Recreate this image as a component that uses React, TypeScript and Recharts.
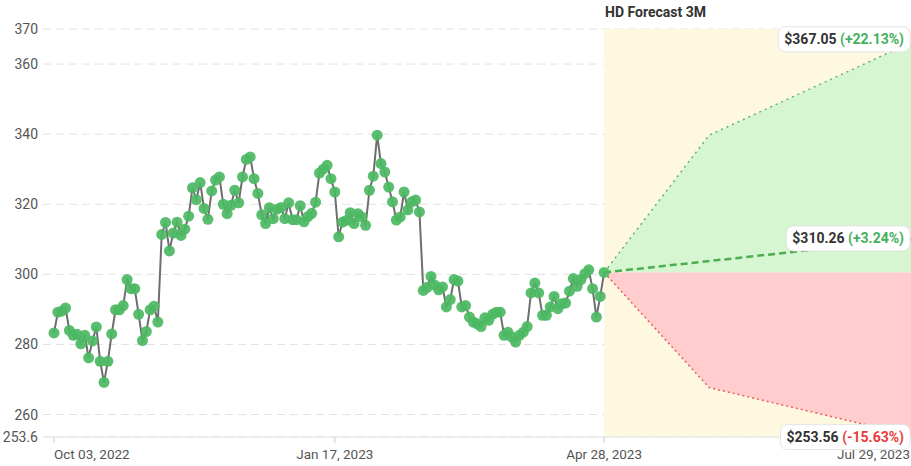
import React from 'react';
import {
  ComposedChart,
  Line,
  Area,
  XAxis,
  YAxis,
  CartesianGrid,
  ReferenceArea,
  LabelList,
} from 'recharts';

// Daily close prices, Oct 03 2022 .. Apr 28 2023 (trading days)
const PRICES: number[] = [
  283.3, 289.2, 289.5, 290.4, 284.0, 282.6, 282.9, 280.2, 282.6, 276.2,
  281.0, 285.0, 275.2, 269.2, 275.2, 283.0, 289.9, 289.9, 291.1, 298.5,
  295.9, 295.9, 288.6, 281.1, 283.7, 289.9, 290.9, 286.4, 311.4, 314.8,
  306.7, 311.8, 314.9, 311.1, 312.9, 316.6, 324.7, 321.3, 326.2, 318.8,
  315.7, 323.8, 326.9, 327.8, 320.0, 317.3, 319.7,
  324.0, 320.4, 327.8, 332.8, 333.5, 327.3, 323.1, 317.0, 314.5, 319.0,
  315.9, 318.6, 319.1, 315.9, 320.4, 315.6, 315.6, 319.6, 315.0, 316.5,
  317.4, 320.6, 328.9, 330.0, 331.1, 327.3, 323.5, 310.7, 314.9, 315.4,
  317.6, 314.5, 317.3, 316.4, 314.0, 324.0, 328.0, 339.7, 331.6, 329.2,
  324.9, 320.7, 315.5, 316.4, 323.5, 318.4, 320.7, 321.2, 317.8,
  295.4, 296.3, 299.4, 296.9, 295.6, 296.4, 290.7, 292.8, 298.5, 298.1,
  290.7, 291.1, 287.8, 286.4, 285.9, 285.1, 287.6, 286.9, 288.6, 289.2,
  289.2, 282.6, 283.5, 282.1, 280.7, 282.6, 283.5, 285.1, 294.7, 297.5,
  294.7, 288.3, 288.3, 290.7, 293.7, 290.2, 291.6, 291.8, 295.2, 298.8,
  296.6, 298.5, 300.2, 301.3, 295.9, 287.8, 293.7, 300.54,
];

// Forecast: now, +1 month, +3 months (offsets in trading-day units)
const FORECAST_OFFSETS = [0, 27.3, 81.6];
const FORECAST_UPPER = [300.54, 339.7, 367.05];
const FORECAST_MID: (number | null)[] = [300.54, null, 310.26];
const FORECAST_LOWER = [300.54, 267.7, 253.56];

const END_PRICE_TEXT = ['$367.05', '$310.26', '$253.56'];
const END_PCT_TEXT = ['(+22.13%)', '(+3.24%)', '(-15.63%)'];

const Y_TICKS = [253.6, 260, 280, 300, 320, 340, 360, 370];
const X_TICKS = [0, 73, 143, 224.6];
const X_TICK_LABELS = ['Oct 03, 2022', 'Jan 17, 2023', 'Apr 28, 2023', 'Jul 29, 2023'];
const TITLE = 'HD Forecast 3M';

const LAST = PRICES.length - 1;
const BASE = PRICES[LAST];

type Row = {
  x: number;
  price?: number;
  upper?: number;
  mid?: number | null;
  lower?: number;
  green?: [number, number];
  red?: [number, number];
};

const data: Row[] = PRICES.map((p, i) => ({ x: i, price: p }));
FORECAST_OFFSETS.forEach((o, k) => {
  let row: Row;
  if (k === 0) {
    row = data[LAST];
  } else {
    row = { x: LAST + o };
    data.push(row);
  }
  row.upper = FORECAST_UPPER[k];
  row.mid = FORECAST_MID[k];
  row.lower = FORECAST_LOWER[k];
  row.green = [BASE, FORECAST_UPPER[k]];
  row.red = [FORECAST_LOWER[k], BASE];
});

const FONT = 'Roboto, "Helvetica Neue", Arial, sans-serif';

let ctx: CanvasRenderingContext2D | null = null;
const measure = (text: string, font: string) => {
  if (!ctx) ctx = document.createElement('canvas').getContext('2d');
  if (!ctx) return text.length * 8;
  ctx.font = font;
  return ctx.measureText(text).width;
};

const makeEndLabel = (k: number, pctColor: string) => (props: any) => {
  const { index } = props;
  if (index !== data.length - 1) return null;
  const px = props.x ?? props.viewBox?.x;
  const py = props.y ?? props.viewBox?.y;
  if (px == null || py == null) return null;
  const font = `bold 14px ${FONT}`;
  const priceTxt = END_PRICE_TEXT[k] + ' ';
  const pctTxt = END_PCT_TEXT[k];
  const w1 = measure(priceTxt, font);
  const w2 = measure(pctTxt, font);
  const pad = 6;
  const w = w1 + w2 + pad * 2;
  const h = 25;
  const rx = px - 8 - w;
  const ry = py - h / 2;
  return (
    <g>
      <rect x={rx} y={ry} width={w} height={h} rx={7} ry={7} fill="#ffffff" stroke="#e4e4e4" strokeWidth={1} />
      <text x={rx + pad} y={py + 5} fontSize={14} fontWeight="bold" fontFamily={FONT}>
        <tspan fill="#333333">{priceTxt}</tspan>
        <tspan fill={pctColor}>{pctTxt}</tspan>
      </text>
    </g>
  );
};

const XTick = (props: any) => {
  const { x, y, payload } = props;
  const i = X_TICKS.indexOf(payload.value);
  const isLast = i === X_TICKS.length - 1;
  const anchor = i === 0 ? 'start' : isLast ? 'end' : 'middle';
  return (
    <text
      x={isLast ? x - 8 : x}
      y={y}
      dy="0.71em"
      textAnchor={anchor}
      fill="#555555"
      fontSize={13.5}
      fontFamily={FONT}
    >
      {X_TICK_LABELS[i]}
    </text>
  );
};

export default function App() {
  return (
    <div
      style={{
        position: 'absolute',
        left: 0,
        top: 0,
        width: 911,
        height: 466,
        overflow: 'hidden',
        background: '#ffffff',
        fontFamily: FONT,
      }}
    >
      <div
        style={{
          position: 'absolute',
          left: 605,
          top: 4,
          fontSize: 14,
          fontWeight: 'bold',
          color: '#333333',
          whiteSpace: 'nowrap',
        }}
      >
        {TITLE}
      </div>
      <ComposedChart
        width={918}
        height={466}
        data={data}
        margin={{ top: 29, right: 0, bottom: 0, left: 0 }}
      >
        <CartesianGrid vertical={false} stroke="#e2e2e2" strokeDasharray="8 5" />
        <XAxis
          type="number"
          dataKey="x"
          domain={[0, 224.6]}
          ticks={X_TICKS}
          padding={{ left: 11, right: 0 }}
          height={29}
          tickSize={6}
          tickMargin={6}
          tickLine={{ stroke: '#cccccc' }}
          axisLine={{ stroke: '#e2e2e2' }}
          tick={<XTick />}
          interval={0}
        />
        <YAxis
          type="number"
          domain={[253.6, 370]}
          ticks={Y_TICKS}
          width={43}
          tickSize={0}
          tickMargin={5}
          tickLine={false}
          axisLine={false}
          interval={0}
          allowDataOverflow
          tick={{ fill: '#555555', fontSize: 14, fontFamily: FONT }}
        />
        <ReferenceArea
          x1={LAST}
          x2={LAST + FORECAST_OFFSETS[FORECAST_OFFSETS.length - 1]}
          y1={253.6}
          y2={370}
          fill="#fef8e1"
          fillOpacity={1}
          stroke="none"
        />
        <Area
          type="linear"
          dataKey="green"
          stroke="none"
          fill="#d6f5d1"
          fillOpacity={1}
          isAnimationActive={false}
          activeDot={false}
        />
        <Area
          type="linear"
          dataKey="red"
          stroke="none"
          fill="#ffcdcd"
          fillOpacity={1}
          isAnimationActive={false}
          activeDot={false}
        />
        <Line
          type="linear"
          dataKey="upper"
          stroke="#5cb85c"
          strokeWidth={1.5}
          strokeDasharray="2 4"
          dot={false}
          isAnimationActive={false}
        >
          <LabelList dataKey="upper" content={makeEndLabel(0, '#43b05c')} />
        </Line>
        <Line
          type="linear"
          dataKey="lower"
          stroke="#f05a5a"
          strokeWidth={1.5}
          strokeDasharray="2 3"
          dot={false}
          isAnimationActive={false}
        >
          <LabelList dataKey="lower" content={makeEndLabel(2, '#ea3b3b')} />
        </Line>
        <Line
          type="linear"
          dataKey="mid"
          stroke="#4cae50"
          strokeWidth={2.5}
          strokeDasharray="7 4"
          dot={false}
          connectNulls
          isAnimationActive={false}
        >
          <LabelList dataKey="mid" content={makeEndLabel(1, '#43b05c')} />
        </Line>
        <Line
          type="linear"
          dataKey="price"
          stroke="#6e6e6e"
          strokeWidth={2}
          dot={{ r: 5.5, fill: '#4cb963', fillOpacity: 0.92, stroke: 'none' }}
          activeDot={false}
          isAnimationActive={false}
        />
      </ComposedChart>
    </div>
  );
}
